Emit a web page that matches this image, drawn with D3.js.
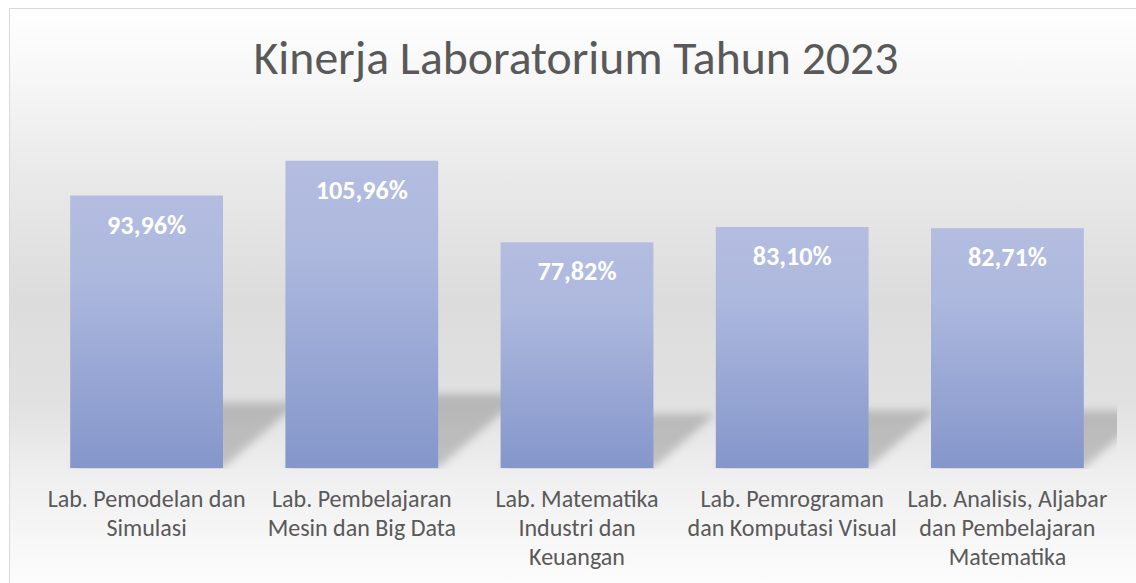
<!DOCTYPE html>
<html>
<head>
<meta charset="utf-8">
<script src="https://cdn.jsdelivr.net/npm/d3@7"></script>
<style>
  html, body { margin: 0; padding: 0; background: #fff; }
  #container { width: 1136px; height: 583px; overflow: hidden; }
  text { font-family: Carlito, Lato, "Noto Sans", sans-serif; }
</style>
</head>
<body>
<div id="container"></div>
<script>
// data
const chartTitle = "Kinerja Laboratorium Tahun 2023";
const categories = [
  "Lab. Pemodelan dan Simulasi",
  "Lab. Pembelajaran Mesin dan Big Data",
  "Lab. Matematika Industri dan Keuangan",
  "Lab. Pemrograman dan Komputasi Visual",
  "Lab. Analisis, Aljabar dan Pembelajaran Matematika"
];
const categoryLines = [
  ["Lab. Pemodelan dan", "Simulasi"],
  ["Lab. Pembelajaran", "Mesin dan Big Data"],
  ["Lab. Matematika", "Industri dan", "Keuangan"],
  ["Lab. Pemrograman", "dan Komputasi Visual"],
  ["Lab. Analisis, Aljabar", "dan Pembelajaran", "Matematika"]
];
const values = [93.96, 105.96, 77.82, 83.10, 82.71];
const yMax = 120;

const W = 1136, H = 583;
const plot = {left: 39, right: 1115, top: 120, bottom: 468};

const idLocale = d3.formatLocale({decimal: ",", thousands: ".", grouping: [3], currency: ["", ""]});
const fmt = v => idLocale.format(".2f")(v) + "%";

const svg = d3.select("#container").append("svg")
  .attr("width", W)
  .attr("height", H);

const defs = svg.append("defs");

// chart area background: white -> grey -> white
const bg = defs.append("linearGradient")
  .attr("id", "bgGrad")
  .attr("gradientUnits", "userSpaceOnUse")
  .attr("x1", 0).attr("y1", 8).attr("x2", 0).attr("y2", 590);
[[0, "#ffffff"], [0.12, "#f7f7f7"], [0.25, "#ececec"], [0.5, "#dcdcdc"], [0.68, "#e1e1e1"], [0.8, "#efefef"], [1, "#fdfdfd"]]
  .forEach(([o, c]) => bg.append("stop").attr("offset", o).attr("stop-color", c));

// bar fill gradient
const barGrad = defs.append("linearGradient")
  .attr("id", "barGrad")
  .attr("x1", 0).attr("y1", 0).attr("x2", 0).attr("y2", 1);
[[0, "#b4bde0"], [0.3, "#adb8de"], [0.65, "#98a7d4"], [1, "#8596ca"]]
  .forEach(([o, c]) => barGrad.append("stop").attr("offset", o).attr("stop-color", c));

defs.append("filter")
  .attr("id", "blur")
  .attr("x", "-20%").attr("y", "-40%").attr("width", "140%").attr("height", "180%")
  .append("feGaussianBlur")
  .attr("stdDeviation", 4);

defs.append("clipPath")
  .attr("id", "plotClip")
  .append("rect")
  .attr("x", plot.left)
  .attr("y", 0)
  .attr("width", plot.right - plot.left + 2)
  .attr("height", plot.bottom + 1);

// chart area
svg.append("rect")
  .attr("x", 9.5)
  .attr("y", 8.5)
  .attr("width", W + 20)
  .attr("height", H + 20)
  .attr("fill", "url(#bgGrad)")
  .attr("stroke", "#d9d9d9")
  .attr("stroke-width", 1);

const x = d3.scaleBand()
  .domain(categories)
  .range([plot.left, plot.right])
  .paddingInner(0.29)
  .paddingOuter(0.145);

const y = d3.scaleLinear()
  .domain([0, yMax])
  .range([plot.bottom, plot.top]);

const data = categories.map((c, i) => ({name: c, value: values[i], lines: categoryLines[i]}));

// perspective shadows behind the bars
svg.append("g")
  .attr("clip-path", "url(#plotClip)")
  .selectAll("path")
  .data(data)
  .join("path")
  .attr("d", d => {
    const x0 = x(d.name), x1 = x0 + x.bandwidth();
    const base = y(0);
    const sh = (y(0) - y(d.value)) * 0.24;
    const dx = sh * 1.15;
    return `M${x0},${base}L${x1},${base}L${x1 + dx},${base - sh}L${x0 + dx},${base - sh}Z`;
  })
  .attr("fill", "#000")
  .attr("fill-opacity", 0.19)
  .attr("filter", "url(#blur)");

// bars
svg.append("g")
  .selectAll("rect")
  .data(data)
  .join("rect")
  .attr("x", d => x(d.name))
  .attr("y", d => y(d.value))
  .attr("width", x.bandwidth())
  .attr("height", d => y(0) - y(d.value))
  .attr("fill", "url(#barGrad)");

// title
const title = svg.append("text")
  .attr("x", 576)
  .attr("y", 74)
  .attr("text-anchor", "middle")
  .attr("fill", "#595959")
  .style("font-size", "48px")
  .text(chartTitle);
// fit width to the reference (font substitute for Calibri)
const tw = title.node().getComputedTextLength();
title.style("font-size", (48 * 645 / tw).toFixed(2) + "px");

// value labels
const vl = svg.append("g")
  .selectAll("text")
  .data(data)
  .join("text")
  .attr("x", d => x(d.name) + x.bandwidth() / 2)
  .attr("y", d => y(d.value) + 38)
  .attr("text-anchor", "middle")
  .attr("fill", "#ffffff")
  .style("font-weight", "bold")
  .style("font-size", "27px")
  .text(d => fmt(d.value));
const vw = vl.nodes()[0].getComputedTextLength();
vl.style("font-size", (27 * 79 / vw).toFixed(2) + "px");

// category labels
const cl = svg.append("g")
  .selectAll("text")
  .data(data)
  .join("text")
  .attr("text-anchor", "middle")
  .attr("fill", "#595959")
  .style("font-size", "24px");

cl.selectAll("tspan")
  .data(d => d.lines.map(l => ({line: l, cx: x(d.name) + x.bandwidth() / 2})))
  .join("tspan")
  .attr("x", d => d.cx)
  .attr("y", (d, i) => 507 + i * 29)
  .text(d => d.line);

const lw = cl.nodes()[0].querySelector("tspan").getComputedTextLength();
cl.style("font-size", (24 * 198 / lw).toFixed(2) + "px");
</script>
</body>
</html>
